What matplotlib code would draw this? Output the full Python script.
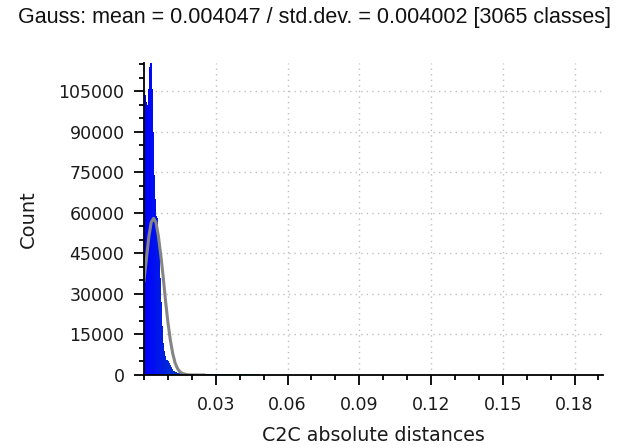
import numpy as np
import matplotlib
matplotlib.use("Agg")
import matplotlib.pyplot as plt
from matplotlib.colors import LinearSegmentedColormap, Normalize
from matplotlib.ticker import MultipleLocator, FixedLocator

# ---------------- data ----------------
title_text = "Gauss: mean = 0.004047 / std.dev. = 0.004002 [3065 classes]"
x_label = "C2C absolute distances"
y_label = "Count"

# histogram: bin start positions (C2C distance) and counts (envelope)
hist_bin_starts = [
    0.0000, 0.0004, 0.0008, 0.0012, 0.0016, 0.0020, 0.0024, 0.0028, 0.0032, 0.0036,
    0.0040, 0.0044, 0.0048, 0.0052, 0.0056, 0.0060, 0.0064, 0.0068, 0.0072, 0.0076,
    0.0080, 0.0084, 0.0088, 0.0092, 0.0096, 0.0100, 0.0104, 0.0108, 0.0112, 0.0116,
    0.0120, 0.0124, 0.0128, 0.0132, 0.0136, 0.0140, 0.0144, 0.0148, 0.0152, 0.0156,
    0.0160, 0.0170, 0.0180, 0.0190, 0.0200, 0.0220, 0.0240, 0.0260, 0.0280, 0.0300,
    0.0320, 0.0340, 0.0360, 0.0380, 0.0400, 0.0420, 0.0440, 0.0460, 0.0480, 0.0500,
    0.0520, 0.0540, 0.0560, 0.0580,
]
hist_counts = [
    104000, 103500, 101000, 100000, 106000, 114000, 118000, 117000, 106000, 90000,
    74000, 72000, 65000, 59000, 58000, 52000, 45000, 36000, 27000, 18000,
    12000, 9000, 7000, 5500, 5500, 5000, 4500, 3800, 3000, 2200,
    1600, 1300, 1100, 1000, 950, 900, 850, 800, 750, 700,
    650, 600, 550, 520, 500, 480, 460, 440, 420, 400,
    380, 350, 320, 300, 280, 250, 220, 200, 170, 150,
    120, 100, 80, 60,
]
# widths of each bin (coarser bins in the tail)
hist_bin_widths = [0.0004] * 40 + [0.0010] * 4 + [0.0020] * 20

# fitted Gauss curve
gauss_x = [0.000, 0.001, 0.002, 0.003, 0.004, 0.005, 0.006, 0.007, 0.008, 0.009,
           0.010, 0.011, 0.012, 0.013, 0.014, 0.015, 0.016, 0.018, 0.020, 0.025]
gauss_y = [35000, 43000, 51000, 56500, 58000, 56500, 51500, 44500, 36500, 27500,
           19500, 13000, 8000, 4500, 2400, 1200, 600, 100, 15, 0]

x_major_ticks = [0.03, 0.06, 0.09, 0.12, 0.15, 0.18]
x_tick_labels = ["0.03", "0.06", "0.09", "0.12", "0.15", "0.18"]
y_major_ticks = [0, 15000, 30000, 45000, 60000, 75000, 90000, 105000]
y_tick_labels = ["0", "15000", "30000", "45000", "60000", "75000", "90000", "105000"]
x_range = (0.0, 0.1919)
y_range = (0, 115500)

# ---------------- figure ----------------
fig = plt.figure(figsize=(6.18, 4.48), dpi=100)
ax = fig.add_axes([144 / 618, 1 - 375 / 448, (603 - 144) / 618, (375 - 63) / 448])

# colour scale like CloudCompare Blue>Green>Yellow>Red
cmap = LinearSegmentedColormap.from_list(
    "bgyr", [(0.0, "#0000ff"), (1 / 3, "#00ff00"), (2 / 3, "#ffff00"), (1.0, "#ff0000")])
norm = Normalize(vmin=x_range[0], vmax=x_range[1])
bar_colors = [cmap(norm(x + w / 2)) for x, w in zip(hist_bin_starts, hist_bin_widths)]

# seamless base silhouette, then per-class coloured bars on top
edges = list(hist_bin_starts) + [hist_bin_starts[-1] + hist_bin_widths[-1]]
ax.stairs(hist_counts, edges, fill=True, color="#0010f0", linewidth=0, zorder=2)
ax.bar(hist_bin_starts, hist_counts, width=hist_bin_widths, align="edge",
       color=bar_colors, edgecolor="none", linewidth=0, zorder=2.1)
ax.plot(gauss_x, gauss_y, color="#858585", linewidth=2.2, zorder=3)

ax.set_xlim(*x_range)
ax.set_ylim(*y_range)

ax.xaxis.set_major_locator(FixedLocator(x_major_ticks))
ax.set_xticklabels(x_tick_labels)
ax.xaxis.set_minor_locator(MultipleLocator(0.01))
ax.yaxis.set_major_locator(FixedLocator(y_major_ticks))
ax.set_yticklabels(y_tick_labels)
ax.yaxis.set_minor_locator(MultipleLocator(5000))

for s in ("top", "right"):
    ax.spines[s].set_visible(False)
for s in ("left", "bottom"):
    ax.spines[s].set_color("black")
    ax.spines[s].set_linewidth(1.3)
    ax.spines[s].set_zorder(4)

ax.tick_params(axis="both", which="major", direction="out", length=7, width=1.3,
               colors="black", labelsize=12.5, labelcolor="#1a1a1a")
ax.tick_params(axis="both", which="minor", direction="out", length=3.5, width=1.3, colors="black")
ax.tick_params(axis="y", which="major", pad=7)
ax.tick_params(axis="x", which="major", pad=8)

ax.grid(True, which="major", linestyle=(0, (1, 3)), color="#c0c0c0", linewidth=1.0, zorder=0)
ax.set_axisbelow(True)

for lab in ax.get_xticklabels() + ax.get_yticklabels():
    lab.set_family("DejaVu Sans")

fig.text(0.5 * (16 + 613) / 618, 1 - 18 / 448, title_text, ha="center", va="center",
         fontsize=15.5, family="Liberation Sans", color="#111111")
fig.text(373 / 618, 1 - 435 / 448, x_label, ha="center", va="center",
         fontsize=13.7, family="DejaVu Sans", color="#1a1a1a")
fig.text(28.5 / 618, 1 - 219 / 448, y_label, ha="center", va="center", rotation=90,
         fontsize=14, family="DejaVu Sans", color="#1a1a1a")

fig.savefig("out.png", dpi=100)
